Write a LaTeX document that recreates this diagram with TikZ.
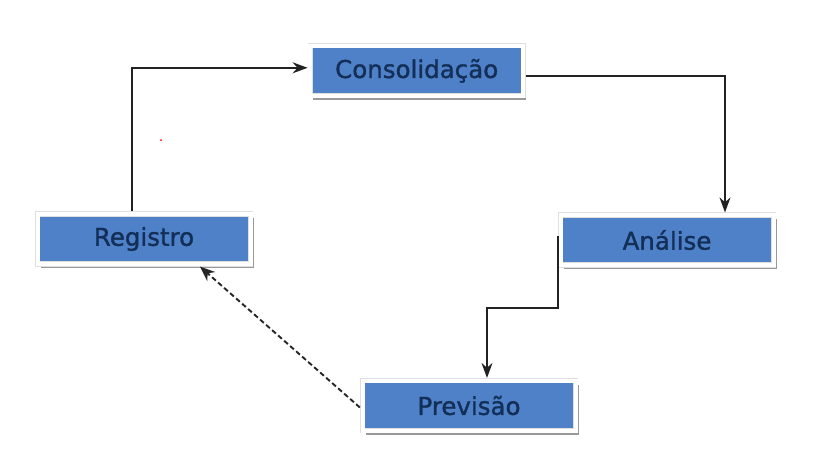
\documentclass[tikz,border=0pt]{standalone}
\usepackage{fontspec}
\setmainfont{DejaVu Sans}
\newfontfamily\boxfont[FakeBold=1.3]{DejaVu Sans}
\usetikzlibrary{shadows,arrows.meta,calc}
\definecolor{boxblue}{HTML}{4F81C8}
\definecolor{boxtext}{HTML}{132F57}
\definecolor{linegray}{HTML}{222222}
\tikzset{
  stagebox/.style={
    rectangle, fill=boxblue, draw=gray!25, double=white, double distance=4pt,
    line width=0.6pt, minimum width=213pt, minimum height=50pt, inner sep=0pt,
    outer sep=2.6pt, text=boxtext,
    font=\boxfont\fontsize{24.5}{29}\selectfont,
    drop shadow={shadow xshift=3pt, shadow yshift=-4pt, fill=gray!80, opacity=1}
  },
  flow/.style={draw=linegray, line width=1.5pt, -{Stealth[length=15pt,width=11pt]}},
  dflow/.style={draw=gray!30!black, line width=1.9pt, dash pattern=on 5pt off 3pt, -{Stealth[length=15pt,width=12pt]}}
}
\begin{document}
\begin{tikzpicture}[x=1pt,y=-1pt]
  \useasboundingbox[fill=white] (0,0) rectangle (834,464);
  \node[stagebox] (con) at (416.7,70.8) {Consolidação};
  \node[stagebox] (reg) at (144,239) {Registro};
  \node[stagebox] (ana) at (667,240) {Análise};
  \node[stagebox] (pre) at (469,405.5) {Previsão};
  \fill[red] (161,140) circle (1pt);
  \draw[flow] ($(reg.north)+(-12,0)$) |- ($(con.west)+(0,-3)$);
  \draw[flow] ($(con.east)+(0,5)$) -| ($(ana.north)+(58,0)$);
  \coordinate (bend) at ($(ana.west)+(0,68)$);
  \draw[flow] ($(ana.west)+(0,-4)$) -- (bend) -| ($(pre.north)+(18,0)$);
  \draw[dflow] ($(pre.west)+(0,2)$) -- ($(reg.south)+(56,0)$);
\end{tikzpicture}
\end{document}
